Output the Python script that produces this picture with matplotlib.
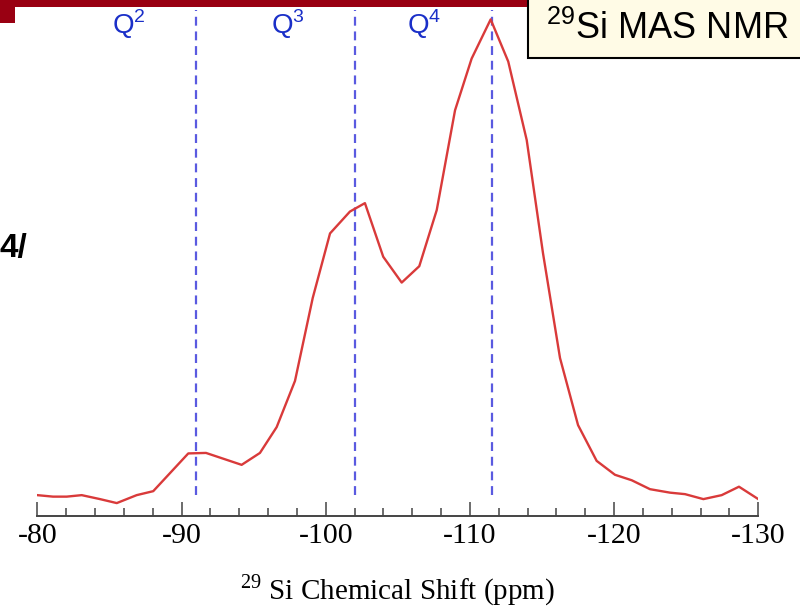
import matplotlib
matplotlib.use("Agg")
import matplotlib.pyplot as plt
from matplotlib.patches import Rectangle

plt.rcParams["axes.unicode_minus"] = False

# 29Si MAS NMR spectrum (chemical shift in ppm, relative intensity)
shift_ppm = [-80.0, -81.09, -82.04, -83.08, -84.35, -85.51, -86.89, -88.04,
             -90.47, -91.70, -94.17, -95.44, -96.60, -97.87, -99.10, -100.30,
             -101.68, -102.72, -103.99, -105.27, -106.49, -107.70, -108.97,
             -110.12, -111.44, -112.66, -113.94, -115.07, -116.25, -117.50,
             -118.79, -120.06, -121.22, -122.49, -123.88, -124.92, -126.19,
             -127.46, -128.66, -130.0]
intensity = [4.2, 3.9, 3.9, 4.2, 3.4, 2.6, 4.2, 5.0,
             12.6, 12.7, 10.3, 12.7, 17.9, 27.2, 43.9, 56.9,
             61.3, 63.0, 52.2, 47.0, 50.3, 61.6, 81.7,
             92.1, 100.0, 91.5, 75.7, 52.9, 31.8, 18.3,
             11.1, 8.3, 7.2, 5.4, 4.7, 4.4, 3.4,
             4.2, 5.9, 3.4]

# Qn site assignments
q_labels = ["2", "3", "4"]
q_positions = [-91.0, -102.0, -111.5]

major_ticks = [-80, -90, -100, -110, -120, -130]
tick_labels = ["-80", "-90", "-100", "-110", "-120", "-130"]

W, H = 800, 611
fig = plt.figure(figsize=(W / 100, H / 100), dpi=100)
fig.patch.set_facecolor("white")

ax = fig.add_axes([37.3 / W, (H - 516) / H, (758.3 - 37.3) / W, 516 / H])
ax.set_xlim(-80, -130)
ax.set_ylim(0, 103.9)

# assignment markers
ax.vlines(q_positions, 4.2, 101.9, colors="#5a5ae0", linestyles=(0, (4, 2.6)),
          linewidth=1.6, zorder=1)
for lab, pos in zip(q_labels, q_positions):
    ax.annotate(r"Q$^{\mathregular{" + lab + "}}$", xy=(pos, 99.0),
                xytext=(-36, 0), textcoords="offset points",
                ha="right", va="center", fontsize=20, color="#1a2fc8",
                family="Liberation Sans")

ax.plot(shift_ppm, intensity, color="#d93a3a", linewidth=1.7, zorder=2)

for side in ("left", "right", "top"):
    ax.spines[side].set_visible(False)
ax.spines["bottom"].set_color("#444444")
ax.spines["bottom"].set_linewidth(1.4)
ax.set_yticks([])
ax.set_xticks(major_ticks)
ax.set_xticklabels(tick_labels, family="Liberation Serif", fontsize=21.5)
ax.set_xticks(range(-82, -130, -2), minor=True)
ax.tick_params(axis="x", which="major", direction="in", length=10, width=1.1,
               color="#444444", pad=5)
ax.tick_params(axis="x", which="minor", direction="in", length=5.5, width=1.1,
               color="#444444")
ax.set_xlabel(r"$^{\mathregular{29}}$ Si Chemical Shift (ppm)",
              family="Liberation Serif", fontsize=21, labelpad=17)
ax.patch.set_alpha(0)

# header band and title box
fig.add_artist(Rectangle((0, 1 - 7 / H), 528 / W, 7 / H, transform=fig.transFigure,
                         facecolor="#990012", edgecolor="none", zorder=5))
fig.add_artist(Rectangle((0, 1 - 23 / H), 15 / W, 23 / H, transform=fig.transFigure,
                         facecolor="#990012", edgecolor="none", zorder=5))
fig.add_artist(Rectangle((528 / W, 1 - 58 / H), 300 / W, 70 / H,
                         transform=fig.transFigure, facecolor="#fffbe6",
                         edgecolor="black", linewidth=1.5, zorder=6))
fig.text(667 / W, 1 - 29 / H, r"$^{\mathregular{29}}$Si MAS NMR",
         family="Liberation Sans", fontsize=26, ha="center", va="center",
         color="black", zorder=7)
fig.text(0, 1 - 249 / H, "4/", family=["Liberation Sans Narrow", "Liberation Sans"],
         fontsize=24, weight="bold", ha="left", va="center", color="black")

fig.savefig("out.png", dpi=100)
